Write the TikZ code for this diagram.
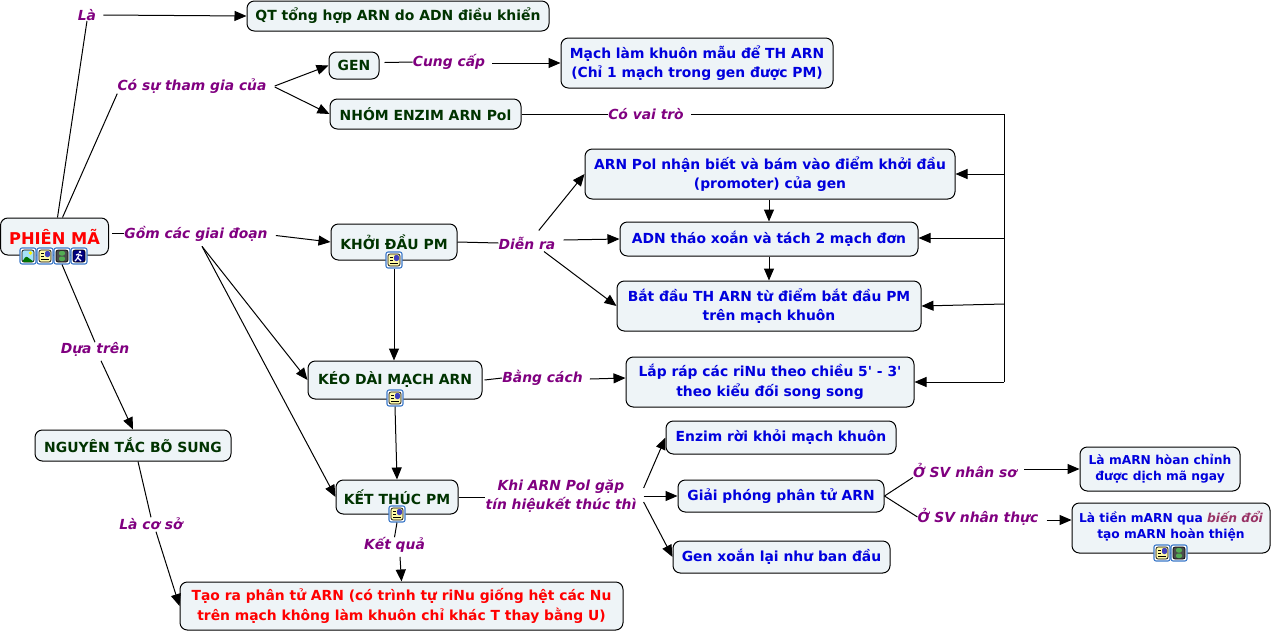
\documentclass[tikz,border=0pt]{standalone}
\usepackage{fontspec}
\setmainfont{DejaVu Sans}
\newfontfamily\plainfont{DejaVu Sans}
\usetikzlibrary{arrows.meta}
\definecolor{boxfill}{HTML}{EEF4F7}
\definecolor{concept}{HTML}{003300}
\definecolor{detail}{HTML}{0000DD}
\definecolor{linkword}{HTML}{800080}
\definecolor{accent}{HTML}{993366}
\definecolor{iconblue}{HTML}{3B78C8}
\tikzset{
  box/.style n args={2}{draw=black,line width=0.75pt,fill=boxfill,rounded corners=5.5pt,inner sep=0pt,
    minimum width=#1*0.75pt,minimum height=#2*0.75pt,align=center,font=\fontsize{10.4}{14.6}\selectfont\bfseries},
  gbox/.style 2 args={box={#1}{#2},text=concept,font=\fontsize{10.45}{14.6}\selectfont\bfseries},
  bbox/.style 2 args={box={#1}{#2},text=detail},
  rbox/.style 2 args={box={#1}{#2},text=red},
  link/.style={text=linkword,inner sep=0pt,align=center,font=\fontsize{10.4}{14.6}\selectfont\bfseries\itshape},
  line/.style={draw=black,line width=0.75pt},
  arr/.style={line,-{Triangle[length=9pt,width=7.5pt]}},
  icon/.style={draw=iconblue,line width=0.8pt,rounded corners=1.5pt,fill=white,inner sep=0pt,minimum size=12pt},
  iconimg/.style={icon,path picture={
    \draw[black,line width=0.5pt,fill=cyan!35,shift={(path picture bounding box.center)}] (-6,-6) rectangle (6,6);
    \fill[green!45!black,shift={(path picture bounding box.center)}] (-6,6)--(-2,0)--(2,3)--(6,6)--cycle;
    \fill[yellow,shift={(path picture bounding box.center)}] (2.5,-3) circle[radius=1.8];}},
  icondoc/.style={icon,path picture={
    \draw[black,line width=0.5pt,fill=yellow!35,shift={(path picture bounding box.center)}] (-6,-6) rectangle (6,6);
    \draw[black,line width=0.5pt,shift={(path picture bounding box.center)}] (-4,-3)--(-1,-3) (-4,0)--(-1,0) (-4,3)--(4,3);
    \fill[blue!50!gray,shift={(path picture bounding box.center)}] (0,-5) rectangle (5,1);}},
  iconfilm/.style={icon,path picture={
    \draw[black,line width=0.5pt,fill=black!70,shift={(path picture bounding box.center)}] (-6,-6) rectangle (6,6);
    \fill[green!35!gray,shift={(path picture bounding box.center)}] (-3,-5) rectangle (3,-0.5) (-3,0.5) rectangle (3,5);}},
  iconrun/.style={icon,path picture={
    \draw[black,line width=0.5pt,fill=blue!50!black,shift={(path picture bounding box.center)}] (-6,-6) rectangle (6,6);
    \draw[white,line width=0.9pt,shift={(path picture bounding box.center)}] (-4,5)--(-1,2)--(0,-2)--(3,0) (-1,2)--(2,5) (0,-2)--(-3,-1);
    \fill[white,shift={(path picture bounding box.center)}] (1,-4) circle[radius=1.3];}},
}
\begin{document}
\begin{tikzpicture}[x=0.75pt,y=-0.75pt]
    \useasboundingbox (0,0) rectangle (1272,633);
    % boxes
    \node[box={108}{37},text=red,font=\fontsize{12.2}{15}\selectfont\bfseries] (phienma) at (54.5,236.5){PHIÊN MÃ};
    \node[gbox={302}{30}] (qt) at (398,16){QT tổng hợp ARN do ADN điều khiển};
    \node[gbox={50}{27}] (gen) at (354,65.5){GEN};
    \node[gbox={191}{30}] (nhom) at (425.5,114){NHÓM ENZIM ARN Pol};
    \node[gbox={126}{36}] (khoidau) at (394,242){KHỞI ĐẦU PM};
    \node[gbox={174}{38}] (keodai) at (395,380){KÉO DÀI MẠCH ARN};
    \node[gbox={122}{34}] (ketthuc) at (397,497){KẾT THÚC PM};
    \node[gbox={196}{31}] (nguyentac) at (133,445.5){NGUYÊN TẮC BÕ SUNG};
    \node[bbox={272}{50}] (machkhuon) at (697,63){Mạch làm khuôn mẫu để TH ARN\\(Chỉ 1 mạch trong gen được PM)};
    \node[bbox={370}{50}] (nhanbiet) at (770,174){ARN Pol nhận biết và bám vào điểm khởi đầu\\(promoter) của gen};
    \node[bbox={298}{34}] (thaoxoan) at (769,239){ADN tháo xoắn và tách 2 mạch đơn};
    \node[bbox={304}{50}] (batdau) at (769,306){Bắt đầu TH ARN từ điểm bắt đầu PM\\trên mạch khuôn};
    \node[bbox={288}{50}] (laprap) at (770,382){Lắp ráp các riNu theo chiều {\plainfont\bfseries 5' - 3'}\\theo kiểu đối song song};
    \node[bbox={230}{33}] (enzim) at (781,437.5){Enzim rời khỏi mạch khuôn};
    \node[bbox={206}{32}] (giaiphong) at (781,496){Giải phóng phân tử ARN};
    \node[bbox={217}{32}] (genxoan) at (781.5,557){Gen xoắn lại như ban đầu};
    \node[bbox={160}{44},font=\fontsize{9.2}{12}\selectfont\bfseries] (hoanchinh) at (1160,469){Là mARN hòan chỉnh\\được dịch mã ngay};
    \node[bbox={198}{50},font=\fontsize{9.2}{12}\selectfont\bfseries] (tienmarn) at (1171,528){Là tiền mARN qua \textcolor{accent}{\itshape biến đổi}\\tạo mARN hoàn thiện\\[-7.5pt]\mbox{}};
    \node[rbox={443}{48}] (taora) at (401.5,606){Tạo ra phân tử ARN (có trình tự riNu giống hệt các Nu\\trên mạch không làm khuôn chỉ khác T thay bằng U)};
    % icons
    \node[iconimg] (pma) at (28,256){};
    \node[icondoc] (pmb) at (45,256){};
    \node[iconfilm] (pmc) at (62,256){};
    \node[iconrun] (pmd) at (79,256){};
    \node[icondoc] (ikhoidau) at (394,260){};
    \node[icondoc] (ikeodai) at (395,398){};
    \node[icondoc] (iketthuc) at (397,514){};
    \node[icondoc] (itiena) at (1162,553){};
    \node[iconfilm] (itienb) at (1179,553){};
    % linking words
    \node[link] (la) at (87,15){Là};
    \node[link] (cosu) at (192,86){Có sự tham gia của};
    \node[link] (gom) at (196,233.5){Gồm các giai đoạn};
    \node[link] (duatren) at (95,349.5){Dựa trên};
    \node[link] (lacoso) at (151,523.5){Là cơ sở};
    \node[link] (cungcap) at (449,62){Cung cấp};
    \node[link] (covaitro) at (646,114){Có vai trò};
    \node[link] (dienra) at (527,243){Diễn ra};
    \node[link] (bangcach) at (542.5,378){Bằng cách};
    \node[link] (khi) at (561,496){Khi ARN Pol gặp\\tín hiệukết thúc thì};
    \node[link] (ketqua) at (394.5,545){Kết quả};
    \node[link] (nhanso) at (965,470){Ở SV nhân sơ};
    \node[link] (nhanthuc) at (978,517){Ở SV nhân thực};
    \coordinate (gocphai) at (1004,114);
    \coordinate (giuaphai) at (1004,238);
    \coordinate (duoiphai) at (1004,382);
    % connectors
    \draw[line] (phienma.north)++(3,0) -- (la.south);
    \draw[arr] (la.east)++(7,0) -- (qt.west);
    \draw[line] (phienma.north)++(8,0) -- (cosu.south west);
    \draw[arr] (cosu.east)++(8,0) -- (gen.west);
    \draw[arr] (cosu.east)++(8,1) -- (nhom.west);
    \draw[line] (gen.east)++(5,-3) -- (cungcap.west);
    \draw[arr] (cungcap.east)++(7,1) -- (machkhuon.west);
    \draw[line] (nhom.east) -- (covaitro.west);
    \draw[line] (covaitro.east)++(7,0) -- (gocphai) -- (duoiphai);
    \draw[arr] (gocphai|-nhanbiet) -- (nhanbiet.east);
    \draw[arr] (giuaphai) -- (thaoxoan.east|-giuaphai);
    \draw[arr] (1004,304) -- (batdau.east);
    \draw[arr] (duoiphai) -- (laprap.east);
    \draw[arr] (nhanbiet.south-|thaoxoan) -- (thaoxoan.north);
    \draw[arr] (thaoxoan.south) -- (batdau.north);
    \draw[line] (phienma.east)++(3,-3) -- (gom.west);
    \draw[arr] (gom.east)++(8,2) -- (khoidau.west);
    \draw[arr] (gom.south)++(6,5) -- (keodai.west);
    \draw[arr] (gom.south)++(6,5) -- (ketthuc.west);
    \draw[line] (khoidau.east) -- (dienra.west);
    \draw[arr] (dienra.60)++(8,-6) -- (nhanbiet.west);
    \draw[arr] (dienra.east)++(8,-3) -- (thaoxoan.west);
    \draw[arr] (dienra.south)++(17,2) -- (batdau.west);
    \draw[arr] (ikhoidau.south) -- (keodai.north-|ikhoidau);
    \draw[line] (keodai.east)++(2,0) -- (bangcach.west);
    \draw[arr] (bangcach.east)++(7,1) -- (laprap.west|-bangcach);
    \draw[arr] (ikeodai.south) -- (ketthuc.north);
    \draw[line] (ketthuc.east) -- (khi.west|-ketthuc);
    \draw[arr] (khi.east)++(7,-8) -- (enzim.west);
    \draw[arr] (khi.east)++(7,0) -- (giaiphong.west);
    \draw[arr] (khi.east)++(7,6) -- (genxoan.west);
    \draw[line] (iketthuc.south) -- (ketqua.north);
    \draw[arr] (ketqua.south)++(5.5,4) -- (taora.north);
    \draw[line] (giaiphong.east) -- (nhanso.south west);
    \draw[line] (giaiphong.east) -- (nhanthuc.west);
    \draw[arr] (nhanso.east)++(7,-1) -- (hoanchinh.west);
    \draw[arr] (nhanthuc.east)++(8,3) -- ++(25,0);
    \draw[line] (pmc.south) -- (duatren.north);
    \draw[arr] (duatren.south)++(6,4) -- (nguyentac.north);
    \draw[line] (nguyentac.south)++(5,0) -- (lacoso.north);
    \draw[arr] (lacoso.south)++(5,2) -- (taora.west);
\end{tikzpicture}
\end{document}
